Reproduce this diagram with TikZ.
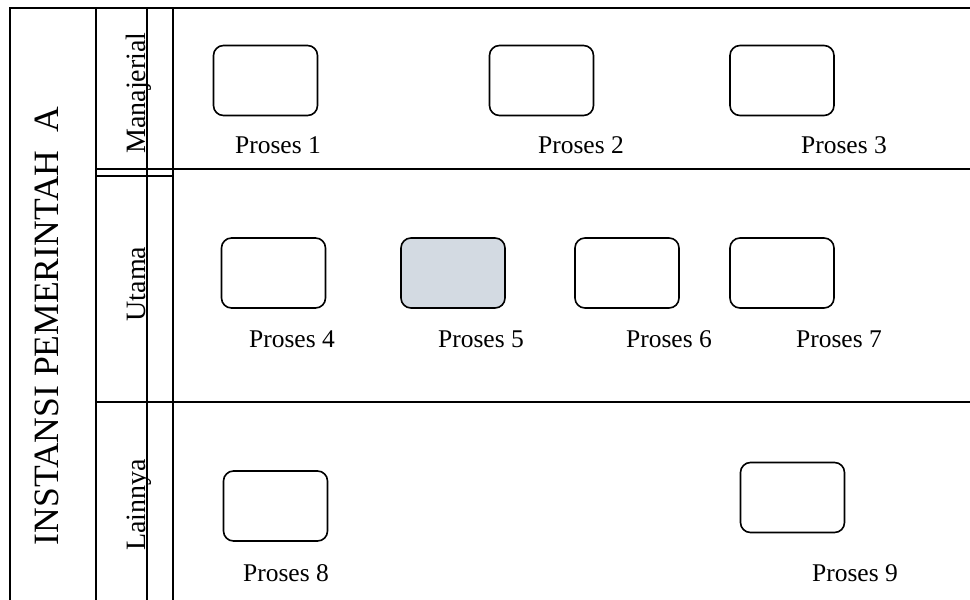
\documentclass[tikz,border=0pt]{standalone}
\usepackage{fontspec}
\setmainfont{Liberation Serif}
\usepackage{xcolor}
\definecolor{abu}{HTML}{D3DAE2}

\begin{document}
\begin{tikzpicture}[x=0.5pt, y=-0.5pt, line width=1pt,
    proses/.style={draw, rounded corners=5pt, line width=0.8pt,
                   minimum width=52pt, minimum height=35pt, inner sep=0pt},
    ket/.style={font=\fontsize{12.75}{15}\selectfont, inner sep=0pt},
    lajur/.style={font=\fontsize{14}{17}\selectfont, rotate=90, anchor=base, inner sep=0pt}]
    \useasboundingbox (0,0) rectangle (970,600);

    % draw pool frame
    \draw (10,600) -- (10,8) -- (970,8);
    \draw (96,8) -- (96,600);
    \draw (147,8) -- (147,600);
    \draw (173,8) -- (173,600);

    % draw lane borders
    \draw (96,169) -- (970,169);
    \draw (96,176) -- (173,176);
    \draw (96,402) -- (970,402);

    % draw pool and lane names
    \node[rotate=90, inner sep=0pt, font=\fontsize{17.8}{21}\selectfont] (pool) at (47,326) {INSTANSI PEMERINTAH\ \ A};
    \node[lajur] (manajerial) at (145,93) {Manajerial};
    \node[lajur] (utama) at (145,284) {Utama};
    \node[lajur] (lainnya) at (145,505) {Lainnya};

    % draw processes of lane manajerial
    \node[proses] (p1) at (265.5,80.5) {};
    \node[proses] (p2) at (541.5,80.5) {};
    \node[proses] (p3) at (782,80.5) {};
    \node[ket] (l1) at (278,145) {Proses 1};
    \node[ket] (l2) at (581,145) {Proses 2};
    \node[ket] (l3) at (844,145) {Proses 3};

    % draw processes of lane utama
    \node[proses] (p4) at (273.5,273) {};
    \node[proses, fill=abu] (p5) at (453,273) {};
    \node[proses] (p6) at (627,273) {};
    \node[proses] (p7) at (782,273) {};
    \node[ket] (l4) at (292,339) {Proses 4};
    \node[ket] (l5) at (481,339) {Proses 5};
    \node[ket] (l6) at (669,339) {Proses 6};
    \node[ket] (l7) at (839,339) {Proses 7};

    % draw processes of lane lainnya
    \node[proses] (p8) at (275.5,506) {};
    \node[proses] (p9) at (792.5,497.5) {};
    \node[ket] (l8) at (286,573) {Proses 8};
    \node[ket] (l9) at (855,573) {Proses 9};

\end{tikzpicture}
\end{document}
